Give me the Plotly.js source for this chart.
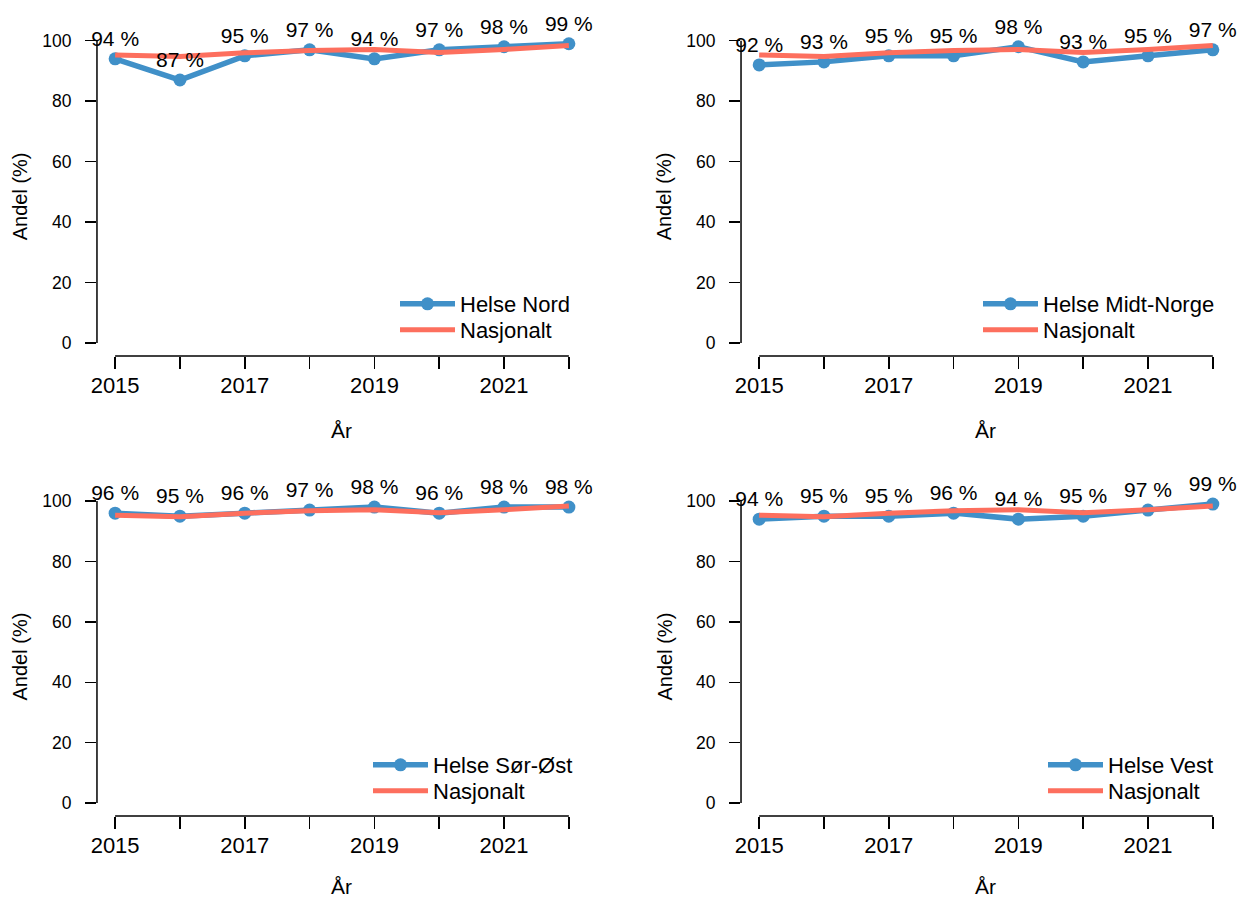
<!DOCTYPE html>
<html>
<head>
<meta charset="utf-8">
<script src="https://cdn.plot.ly/plotly-3.0.1.min.js"></script>
<style>
html,body{margin:0;padding:0;background:#fff;}
#chart{width:1240px;height:900px;}
</style>
</head>
<body>
<div id="chart"></div>
<script>
// ---- data ----
const years = [2015, 2016, 2017, 2018, 2019, 2020, 2021, 2022];
const yearTickText = ['2015', '', '2017', '', '2019', '', '2021', ''];
const yTicks = [0, 20, 40, 60, 80, 100];
const regionNames = ['Helse Nord', 'Helse Midt-Norge', 'Helse Sør-Øst', 'Helse Vest'];
const helseNord = [94, 87, 95, 97, 94, 97, 98, 99];
const helseMidtNorge = [92, 93, 95, 95, 98, 93, 95, 97];
const helseSorOst = [96, 95, 96, 97, 98, 96, 98, 98];
const helseVest = [94, 95, 95, 96, 94, 95, 97, 99];
const nasjonalt = [95.3, 94.8, 96.0, 96.8, 97.1, 96.1, 97.1, 98.4];
const nasjonaltName = 'Nasjonalt';
const xTitle = 'År';
const yTitle = 'Andel (%)';

// ---- styling ----
const BLUE = '#4090c8';
const RED = '#fd6f5e';
const FONT = 'Liberation Sans, Arial, sans-serif';

const regionValues = [helseNord, helseMidtNorge, helseSorOst, helseVest];
const xDomains = [[0.0782, 0.4734], [0.5976, 0.9927], [0.0782, 0.4734], [0.5976, 0.9927]];
const yDomains = [[0.6044, 0.9682], [0.6044, 0.9682], [0.0933, 0.4567], [0.0933, 0.4567]];
// legend anchor (left x px, first-row centre y px, second-row centre y px)
const legendPx = [[395, 304, 330], [978, 304, 330], [368, 765, 791], [1043, 765, 791]];
const xTitleShift = [-74, -74, -70, -70];

const traces = [];
const layout = {
  width: 1240, height: 900,
  margin: {l: 0, r: 0, t: 0, b: 0},
  paper_bgcolor: '#fff', plot_bgcolor: '#fff',
  font: {family: FONT, color: '#000', size: 20},
  shapes: [], annotations: [],
  showlegend: true
};

function legendBox(xpx, ypx) {
  return {
    x: xpx / 1240, y: 1 - ypx / 900, xanchor: 'left', yanchor: 'middle',
    bgcolor: 'rgba(0,0,0,0)', font: {family: FONT, size: 22, color: '#000'},
    tracegroupgap: 0, itemwidth: 55
  };
}

regionValues.forEach((vals, i) => {
  const n = i === 0 ? '' : String(i + 1);
  const xa = 'x' + n, ya = 'y' + n;
  const lgA = 'legend' + (i === 0 ? '' : String(2 * i + 1));
  const lgB = 'legend' + String(2 * i + 2);
  traces.push({
    x: years, y: vals, xaxis: xa, yaxis: ya, type: 'scatter', mode: 'lines+markers',
    name: regionNames[i], legend: lgA,
    line: {color: BLUE, width: 5.5}, marker: {color: BLUE, size: 13},
    cliponaxis: false
  });
  traces.push({
    x: years, y: nasjonalt, xaxis: xa, yaxis: ya, type: 'scatter', mode: 'lines',
    name: nasjonaltName, legend: lgB,
    line: {color: RED, width: 5}, cliponaxis: false
  });
  traces.push({
    x: years, y: vals, xaxis: xa, yaxis: ya, type: 'scatter', mode: 'markers+text',
    marker: {size: 11, opacity: 0, color: BLUE},
    text: vals.map(v => v + ' %'), textposition: 'top center',
    textfont: {family: FONT, size: 21, color: '#000'},
    showlegend: false, cliponaxis: false, hoverinfo: 'skip'
  });

  layout['xaxis' + n] = {
    domain: xDomains[i], anchor: ya, range: [2014.72, 2022.28],
    tickvals: years, ticktext: yearTickText, ticks: 'outside', ticklen: 12,
    tickwidth: 1.5, tickcolor: '#000', showgrid: false, zeroline: false, showline: false,
    tickfont: {family: FONT, size: 22, color: '#000'}, ticklabelstandoff: -2,
    fixedrange: true, automargin: false
  };
  layout['yaxis' + n] = {
    domain: yDomains[i], anchor: xa, range: [-4.3, 104],
    tickvals: yTicks, ticks: 'outside', ticklen: 11,
    tickwidth: 1.5, tickcolor: '#000', showgrid: false, zeroline: false, showline: false,
    tickfont: {family: FONT, size: 17.5, color: '#000'}, ticklabelstandoff: 10,
    fixedrange: true, automargin: false
  };
  layout[lgA] = legendBox(legendPx[i][0], legendPx[i][1]);
  layout[lgB] = legendBox(legendPx[i][0], legendPx[i][2]);
  // detached R-style axis lines
  layout.shapes.push({type: 'line', xref: xa + ' domain', yref: ya,
    x0: 0, x1: 0, y0: yTicks[0], y1: yTicks[yTicks.length - 1], line: {color: '#000', width: 1.5}});
  layout.shapes.push({type: 'line', xref: xa, yref: ya + ' domain',
    x0: years[0], x1: years[years.length - 1], y0: 0, y1: 0, line: {color: '#000', width: 1.5}});
  // axis titles
  layout.annotations.push({text: xTitle, xref: xa + ' domain', yref: ya + ' domain',
    x: 0.5, y: 0, yshift: xTitleShift[i], xanchor: 'center', yanchor: 'middle', showarrow: false,
    font: {family: FONT, size: 21, color: '#000'}});
  layout.annotations.push({text: yTitle, xref: xa + ' domain', yref: ya + ' domain',
    x: 0, y: 0.5, xshift: -77, yshift: -4, xanchor: 'center', yanchor: 'middle', textangle: -90,
    showarrow: false, font: {family: FONT, size: 20, color: '#000'}});
});

Plotly.newPlot('chart', traces, layout, {displayModeBar: false, staticPlot: true});
</script>
</body>
</html>
